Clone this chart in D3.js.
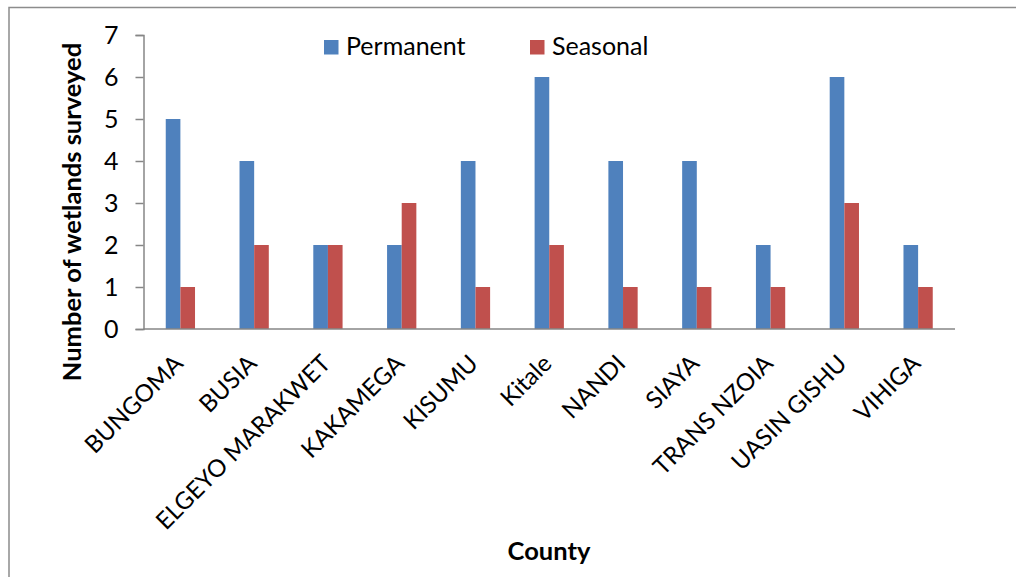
<!DOCTYPE html>
<html>
<head>
<meta charset="utf-8">
<script src="https://cdn.jsdelivr.net/npm/d3@7"></script>
<style>
  html, body { margin: 0; padding: 0; background: #fff; }
  svg { display: block; }
  text { font-family: Lato, "Open Sans", sans-serif; fill: #000; }
</style>
</head>
<body>
<svg id="chart" width="1016" height="577"></svg>
<script>
// Wetlands surveyed per county, by type
const counties = ["BUNGOMA", "BUSIA", "ELGEYO MARAKWET", "KAKAMEGA", "KISUMU", "Kitale",
                  "NANDI", "SIAYA", "TRANS NZOIA", "UASIN GISHU", "VIHIGA"];
const permanent = [5, 4, 2, 2, 4, 6, 4, 4, 2, 6, 2];
const seasonal  = [1, 2, 2, 3, 1, 2, 1, 1, 1, 3, 1];
const seriesNames = ["Permanent", "Seasonal"];
const yTicks = [0, 1, 2, 3, 4, 5, 6, 7];

const colors = ["#4F81BD", "#C0504D"];
const axisColor = "#868686";

const svg = d3.select("#chart");
const margin = { left: 143.5, right: 1016 - 955, top: 35, bottom: 577 - 329 };
const W = 1016, H = 577;

// outer frame
svg.append("rect")
  .attr("x", 9).attr("y", 7.5)
  .attr("width", 1200).attr("height", 1000)
  .attr("fill", "none").attr("stroke", "#8c8c8c").attr("stroke-width", 1.5);

const x = d3.scaleBand()
  .domain(counties)
  .range([margin.left, W - margin.right])
  .paddingInner(0).paddingOuter(0);

const y = d3.scaleLinear()
  .domain([0, 7])
  .range([H - margin.bottom, margin.top]);

const barW = x.bandwidth() / 5.04;

const rows = counties.map((c, i) => ({ county: c, values: [permanent[i], seasonal[i]] }));

// bars
const groups = svg.append("g").selectAll("g")
  .data(rows).join("g")
  .attr("transform", d => `translate(${x(d.county) + x.bandwidth() / 2},0)`);

groups.selectAll("rect")
  .data(d => d.values.map((v, k) => ({ v, k })))
  .join("rect")
  .attr("x", d => (d.k === 0 ? -barW : 0))
  .attr("width", barW)
  .attr("y", d => y(d.v))
  .attr("height", d => y(0) - y(d.v))
  .attr("fill", d => colors[d.k]);

// y axis
const yAxis = d3.axisLeft(y).tickValues(yTicks).tickFormat(d3.format("d"))
  .tickSize(8).tickPadding(17);
const gy = svg.append("g")
  .attr("transform", `translate(${margin.left},0)`)
  .call(yAxis);
gy.select(".domain").attr("stroke", axisColor).attr("stroke-width", 1.5);
gy.selectAll(".tick line").attr("stroke", axisColor).attr("stroke-width", 1.5);
gy.selectAll(".tick text")
  .attr("font-size", 25).attr("font-family", "Lato, sans-serif").attr("fill", "#000");

// x axis line
svg.append("line")
  .attr("x1", margin.left).attr("x2", W - margin.right)
  .attr("y1", y(0)).attr("y2", y(0))
  .attr("stroke", axisColor).attr("stroke-width", 1.5);

// rotated category labels
svg.append("g").selectAll("text")
  .data(counties).join("text")
  .attr("transform", d => `translate(${x(d) + x.bandwidth() / 2 + 4},${y(0) + 36}) rotate(-45)`)
  .attr("text-anchor", "end")
  .attr("font-size", 24)
  .text(d => d);

// axis titles
svg.append("text")
  .attr("transform", `translate(81,${212}) rotate(-90)`)
  .attr("text-anchor", "middle")
  .attr("font-size", 25.5).attr("font-weight", "bold")
  .text("Number of wetlands surveyed");

svg.append("text")
  .attr("x", 549).attr("y", 560)
  .attr("text-anchor", "middle")
  .attr("font-size", 25.5).attr("font-weight", "bold")
  .text("County");

// legend
const legendX = [324, 530];
const legend = svg.append("g").selectAll("g")
  .data(seriesNames).join("g")
  .attr("transform", (d, i) => `translate(${legendX[i]},40)`);
legend.append("rect")
  .attr("width", 14.5).attr("height", 14.5)
  .attr("fill", (d, i) => colors[i]);
legend.append("text")
  .attr("x", 22).attr("y", 15)
  .attr("font-size", 25)
  .text(d => d);
</script>
</body>
</html>
